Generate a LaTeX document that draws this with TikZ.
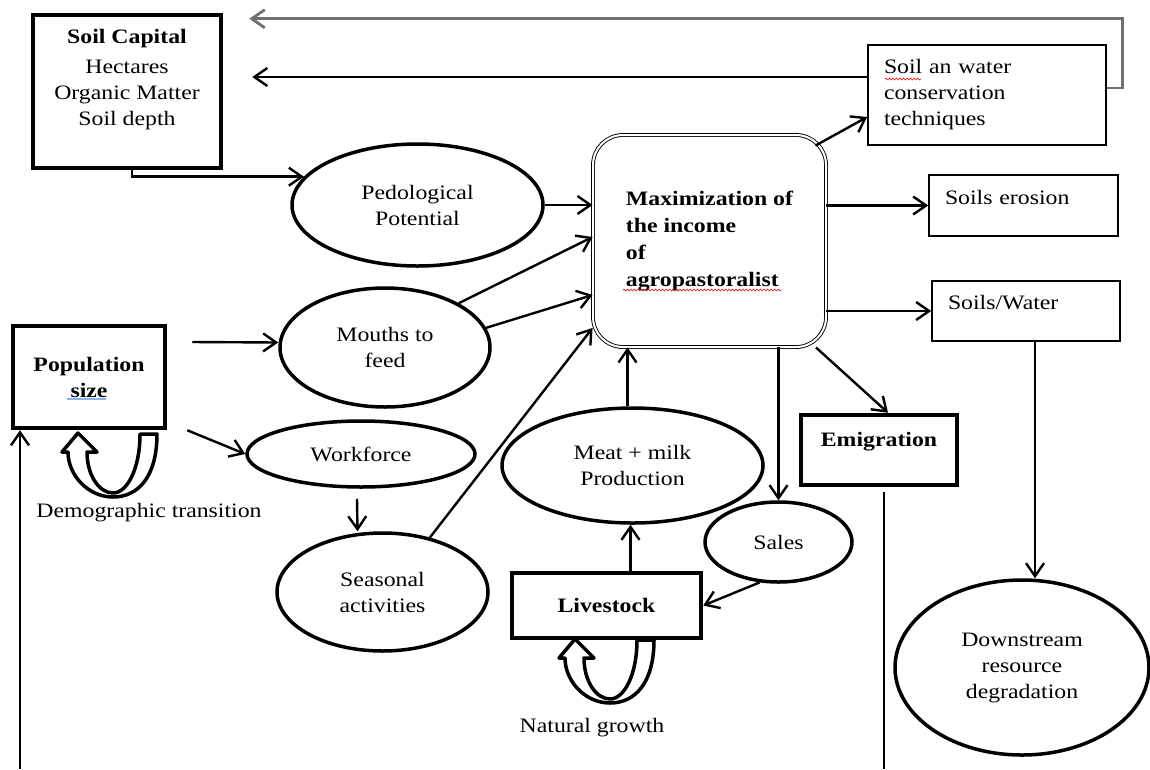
\documentclass[tikz,border=0pt]{standalone}
\usepackage{fontspec}
\setmainfont{Liberation Serif}[FakeStretch=1.16]
\usepackage{xcolor}
\usepackage{tikz}
\usetikzlibrary{arrows.meta,shapes.geometric,decorations.pathmorphing}
\definecolor{ink}{HTML}{000000}
\definecolor{loopgray}{HTML}{707070}
\definecolor{spellred}{HTML}{E0201B}
\definecolor{grammarblue}{HTML}{8AB0F0}
\newcommand{\diagfont}{\fontsize{20.5}{26}\selectfont}
\tikzset{
    stockbox/.style={
        draw=ink, line width=4.5pt, inner sep=0pt,
        font=\diagfont\bfseries, align=center
    },
    notebox/.style={
        draw=ink, line width=1.6pt, inner xsep=16pt, inner ysep=0pt,
        font=\diagfont, align=left
    },
    goalbox/.style={
        draw=ink, double, double distance=2pt, line width=0.9pt,
        rounded corners=30pt, minimum width=233pt, minimum height=212pt,
        font=\fontsize{20.5}{27}\selectfont\bfseries, align=left
    },
    bubble/.style={
        draw=ink, ellipse, line width=3.5pt, inner sep=0pt,
        font=\diagfont, align=center
    },
    arrow/.style={-{Straight Barb[length=13pt, width=18pt]}, line width=2.4pt, color=ink},
    feedback/.style={-{Straight Barb[length=13pt, width=18pt]}, line width=2.8pt, color=loopgray},
    plainline/.style={line width=2.4pt, color=ink},
    loopshape/.style={draw=ink, fill=white, line width=3.5pt, line join=round},
    spellmark/.style={draw=spellred, line width=0.7pt, decorate,
        decoration={snake, amplitude=0.9pt, segment length=3.5pt}},
    grammarmark/.style={draw=grammarblue, line width=2.5pt},
    uturn/.pic={
        \draw[loopshape] (27,-63) -- (44,-63) .. controls (44,-20) and (25,0) .. (0,0)
            .. controls (-25,0) and (-45,-22) .. (-45,-45) -- (-51,-45) -- (-35,-64)
            -- (-16,-45) -- (-26,-45) .. controls (-26,-22) and (-14,-4) .. (0,-4)
            .. controls (14,-4) and (27,-28) .. (27,-63) -- cycle;
    },
}

\begin{document}
\begin{tikzpicture}[
        x=1pt, y=-1pt,
        every node/.style={font=\diagfont, align=center},
    ]
    \path[use as bounding box, fill=white] (0,0) rectangle (1150,769);

    % stocks and boxes
    \node[stockbox, font=\diagfont, minimum width=188pt, minimum height=153pt] (soil) at (127,91.5)
        {\parbox[c][145pt][t]{180pt}{\centering\rule{0pt}{24pt}\textbf{Soil Capital}\\[4pt]Hectares\\Organic Matter\\Soil depth}};
    \node[goalbox] (max) at (709.5,241) {Maximization of\\the income\\of\\agropastoralist};
    \node[notebox, text width=206pt, minimum height=100pt] (cons) at (987,95) {Soil an water\\conservation\\techniques};
    \node[notebox, text width=157pt, minimum height=61pt, text height=15pt, text depth=18pt] (erosion) at (1023.5,205.5) {Soils erosion};
    \node[notebox, text width=156pt, minimum height=60pt, text height=15pt, text depth=18pt] (soilwater) at (1026,311) {Soils/Water};
    \node[stockbox, minimum width=156pt, minimum height=70pt, text height=15pt, text depth=23pt] (emig) at (879,450) {Emigration};
    \node[stockbox, minimum width=152pt, minimum height=102pt] (pop) at (89,377) {Population\\size};
    \node[stockbox, minimum width=189pt, minimum height=65pt] (live) at (606.5,605.5) {Livestock};

    % ellipses
    \node[bubble, minimum width=251pt, minimum height=122pt] (pedo) at (417.5,205) {Pedological\\Potential};
    \node[bubble, minimum width=210pt, minimum height=119pt] (mouths) at (385,347.5) {Mouths to\\feed};
    \node[bubble, minimum width=228pt, minimum height=66pt] (work) at (361,454) {Workforce};
    \node[bubble, minimum width=211pt, minimum height=118pt] (seas) at (382.5,592) {Seasonal\\activities};
    \node[bubble, minimum width=261pt, minimum height=115pt] (meat) at (632.5,465.5) {Meat + milk\\Production};
    \node[bubble, minimum width=147pt, minimum height=80pt] (sales) at (778.5,542) {Sales};
    \node[bubble, minimum width=254pt, minimum height=175pt] (down) at (1022,667.5) {Downstream\\resource\\degradation};

    % loops
    \pic (demoloop) at (113,497) {uturn};
    \pic (growthloop) at (610,703) {uturn};
    \node (demolabel) at (149,513) {Demographic transition};
    \node (growthlabel) at (592,728) {Natural growth};

    % proofing marks
    \draw[spellmark] (885,79) -- (921,79);
    \draw[spellmark] (623,290) -- (781,290);
    \draw[grammarmark] (67,399) -- (106,399);

    % connectors
    \draw[arrow] ([xshift=5pt]soil.south) |- (pedo.166);
    \draw[feedback] ([yshift=7pt]cons.east) -- ++(16,0) |- ([xshift=26pt,yshift=-6pt]soil.north east);
    \draw[arrow] ([yshift=18pt]cons.west) -- ([xshift=29pt,yshift=14.5pt]soil.east);
    \draw[arrow] (pedo.east) -- (pedo.east -| max.west);
    \draw[arrow] (mouths.31) -- ([yshift=4pt]max.west);
    \draw[arrow] (mouths.11) -- ([yshift=-54pt]max.west);
    \draw[arrow] ([xshift=25pt,yshift=35pt]pop.east) -- ([yshift=5pt]mouths.west);
    \draw[arrow] ([xshift=20pt]pop.south east) -- (work.west);
    \draw[arrow] ([xshift=-4pt,yshift=-10pt]work.south) -- ([xshift=-25pt]seas.north);
    \draw[arrow] (seas.49) -- ([yshift=-87pt]max.west);
    \draw[arrow] ([xshift=-5pt]meat.north) -- ([xshift=-5pt]meat.north |- max.south);
    \draw[arrow] ([xshift=24pt]live.north) -- ([xshift=24pt]live.north |- meat.south);
    \draw[arrow] (sales.245) -- (live.east);
    \draw[arrow] (max.south -| sales.north) -- (sales.north);
    \draw[arrow] (max.-45) -- ([xshift=9pt]emig.north);
    \draw[arrow] ([xshift=-11pt,yshift=-11pt]max.north east) -- ([yshift=-22pt]cons.west);
    \draw[arrow] (max.east |- erosion.west) -- (erosion.west);
    \draw[arrow] (max.east |- soilwater.west) -- (soilwater.west);
    \draw[arrow] ([xshift=9pt]soilwater.south) -- ([xshift=9pt]soilwater.south |- down.north);
    \coordinate (emigout) at (884,769);
    \coordinate (popin) at (20,769);
    \draw[plainline] ([xshift=5pt,yshift=-5pt]emig.south) -- (emigout);
    \draw[arrow] (popin) -- (popin |- pop.south);
\end{tikzpicture}
\end{document}
